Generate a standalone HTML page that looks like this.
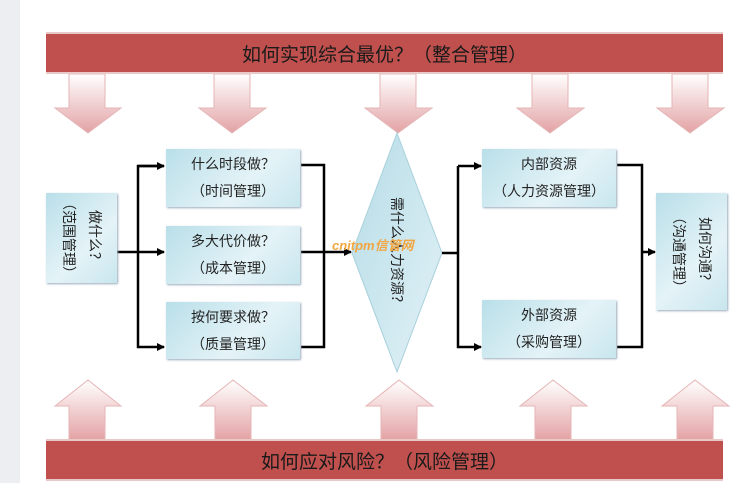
<!DOCTYPE html>
<html><head><meta charset="utf-8"><style>
body{margin:0;width:750px;height:483px;background:#fff;position:relative;overflow:hidden;font-family:"Liberation Sans","Noto Sans CJK SC",sans-serif;color:#222}
.strip{position:absolute;left:0;top:0;width:20px;height:483px;background:#eceef2}
.bar{position:absolute;left:46px;width:677px;height:38px;background:#c0504d;border-top:2px solid #e9c9c8;border-bottom:2px solid #e9c9c8;display:flex;align-items:center;justify-content:center;font-size:19px;color:#1a1a1a}
.box{position:absolute;background:linear-gradient(135deg,#b9dfe9,#e4f3f7 60%,#c8e6ee);box-shadow:1px 1px 2px #9ab;display:flex;align-items:center;justify-content:center;text-align:center;font-size:14px;line-height:27px}
.rot{transform:rotate(90deg);white-space:nowrap;text-align:center;font-size:14px;line-height:26px}
svg{position:absolute;left:0;top:0}
</style></head><body>
<div class="strip"></div>
<svg width="750" height="483">
<defs>
<linearGradient id="gd" x1="0" y1="0" x2="0" y2="1"><stop offset="0" stop-color="#fff"/><stop offset="1" stop-color="#e3a2a4"/></linearGradient>
<linearGradient id="gu" x1="0" y1="1" x2="0" y2="0"><stop offset="0" stop-color="#e3a2a4"/><stop offset="1" stop-color="#fff"/></linearGradient>
<linearGradient id="dm" x1="0" y1="0" x2="1" y2="1"><stop offset="0" stop-color="#b6dce7"/><stop offset="1" stop-color="#e2f2f6"/></linearGradient>
<marker id="a" markerWidth="8" markerHeight="8" refX="7" refY="4" orient="auto" markerUnits="userSpaceOnUse"><path d="M0,0L8,4L0,8z" fill="#000"/></marker>
</defs>
<g fill="url(#gd)" stroke="#e6b5b6" stroke-width="1">
<path d="M69,74h36v34h16l-33,25l-33,-25h14z"/>
<path d="M214,74h36v34h16l-34,25l-33,-25h15z"/>
<path d="M380,74h36v34h16l-34,25l-33,-25h15z"/>
<path d="M532,74h36v34h16l-34,25l-33,-25h15z"/>
<path d="M672,74h36v34h16l-34,25l-33,-25h15z"/>
</g>
<g fill="url(#gu)" stroke="#e6b5b6" stroke-width="1">
<path d="M69,440h36v-34h16l-33,-26l-33,26h14z"/>
<path d="M215,440h36v-34h16l-34,-26l-33,26h15z"/>
<path d="M381,440h36v-34h16l-34,-26l-33,26h15z"/>
<path d="M535,440h36v-34h16l-34,-26l-33,26h15z"/>
<path d="M677,440h36v-34h16l-34,-26l-33,26h15z"/>
</g>
<polygon points="397,133 442,253 397,372 352,253" fill="url(#dm)" stroke="#a8d0dc"/>
<g fill="none" stroke="#000" stroke-width="2.5">
<path d="M117,252H138"/>
<path d="M164,166H138V347H164" marker-end="url(#a)"/>
<path d="M138,166H164" marker-end="url(#a)"/>
<path d="M138,252H164" marker-end="url(#a)"/>
<path d="M301,165H324V347H301"/>
<path d="M301,252H324H351" marker-end="url(#a)"/>
<path d="M442,253H458"/>
<path d="M458,166H481" marker-end="url(#a)"/>
<path d="M458,166V347H481" marker-end="url(#a)"/>
<path d="M617,165H642V347H617"/>
<path d="M642,252H655" marker-end="url(#a)"/>
</g>
</svg>
<div class="bar" style="top:32px">如何实现综合最优？（整合管理）</div>
<div class="bar" style="top:439px">如何应对风险？（风险管理）</div>
<div class="box" style="left:46px;top:193px;width:71px;height:90px"><div class="rot">做什么？<br>（范围管理）</div></div>
<div class="box" style="left:166px;top:149px;width:134px;height:58px">什么时段做？<br>（时间管理）</div>
<div class="box" style="left:166px;top:226px;width:134px;height:58px">多大代价做？<br>（成本管理）</div>
<div class="box" style="left:166px;top:302px;width:134px;height:57px">按何要求做？<br>（质量管理）</div>
<div style="position:absolute;left:297px;top:240px;width:200px;height:26px;display:flex;justify-content:center;align-items:center"><div class="rot">需什么人力资源？</div></div>
<div style="position:absolute;left:332px;top:235px;font-size:13px;font-weight:bold;font-style:italic;color:#f2a640">cnitpm信管网</div>
<div class="box" style="left:482px;top:149px;width:134px;height:58px">内部资源<br>（人力资源管理）</div>
<div class="box" style="left:482px;top:300px;width:134px;height:58px">外部资源<br>（采购管理）</div>
<div class="box" style="left:656px;top:193px;width:71px;height:117px"><div class="rot">如何沟通？<br>（沟通管理）</div></div>
</body></html>
